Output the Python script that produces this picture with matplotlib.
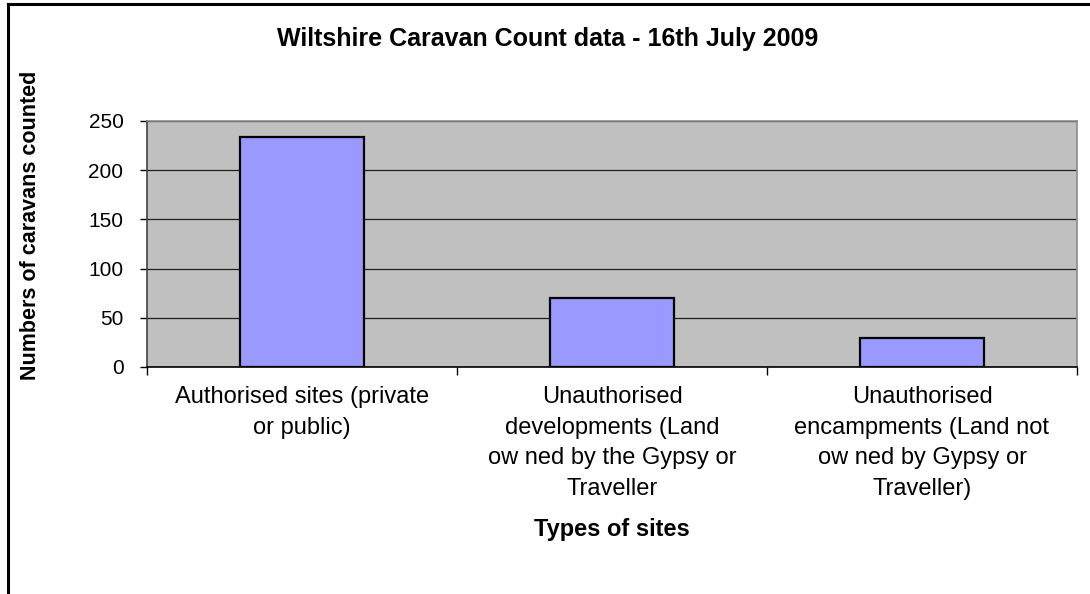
import numpy as np
import matplotlib
matplotlib.use('Agg')
from matplotlib import pyplot as plt
from matplotlib.lines import Line2D

plt.rcParams['font.family'] = ['Liberation Sans', 'DejaVu Sans']

# dados
categorias = ['Authorised sites (private\nor public)',
              'Unauthorised\ndevelopments (Land\now ned by the Gypsy or\nTraveller',
              'Unauthorised\nencampments (Land not\now ned by Gypsy or\nTraveller)']
caravanas = [234, 70, 29]
yticks = [0, 50, 100, 150, 200, 250]

fig = plt.figure(figsize=(10.9, 5.94), dpi=100)
ax = fig.add_axes([147 / 1090, 1 - 367 / 594, 930 / 1090, 246 / 594])
ax.set_facecolor('#C0C0C0')

x = np.arange(len(categorias))
ax.bar(x, caravanas, width=0.4, color='#9999FF', edgecolor='black', linewidth=1.6, zorder=3)

ax.set_xlim(-0.5, len(categorias) - 0.5)
ax.set_ylim(0, 250)
ax.set_yticks(yticks)
ax.set_yticklabels([str(v) for v in yticks], fontsize=15)
ax.yaxis.grid(True, color='#202020', linewidth=0.9, zorder=1)
ax.set_axisbelow(True)

# ticks do eixo x nos limites das categorias
ax.set_xticks(np.arange(len(categorias) + 1) - 0.5)
ax.set_xticklabels([])
ax.set_xticks(x, minor=True)
ax.set_xticklabels(categorias, minor=True, fontsize=17, linespacing=1.5, va='top')
ax.tick_params(axis='x', which='minor', length=0, pad=14)
ax.tick_params(axis='x', which='major', direction='out', length=6, width=1, color='black')
ax.tick_params(axis='y', direction='out', length=5, width=1, color='black', pad=12)

for lado in ['top', 'right']:
    ax.spines[lado].set_color('#8c8c8c')
    ax.spines[lado].set_linewidth(1.2)
ax.spines['left'].set_color('#404040')
ax.spines['bottom'].set_color('black')
ax.spines['left'].set_linewidth(1.2)
ax.spines['bottom'].set_linewidth(1.2)

fig.text(548 / 1090, 1 - 46 / 594, 'Wiltshire Caravan Count data - 16th July 2009',
         ha='center', va='baseline', fontsize=18, fontweight='bold')
fig.text(612 / 1090, 1 - 536 / 594, 'Types of sites',
         ha='center', va='baseline', fontsize=17, fontweight='bold')
fig.text(31 / 1090, 1 - 225 / 594, 'Numbers of caravans counted',
         ha='center', va='center', rotation=90, fontsize=15.5, fontweight='bold')

# moldura do grafico (so esquerda e topo aparecem)
fig.add_artist(Line2D([8 / 1090, 8 / 1090], [0, 1 - 4 / 594], color='black', linewidth=2.2))
fig.add_artist(Line2D([8 / 1090, 1], [1 - 4 / 594, 1 - 4 / 594], color='black', linewidth=2.2))

plt.savefig('out.png', dpi=100)
